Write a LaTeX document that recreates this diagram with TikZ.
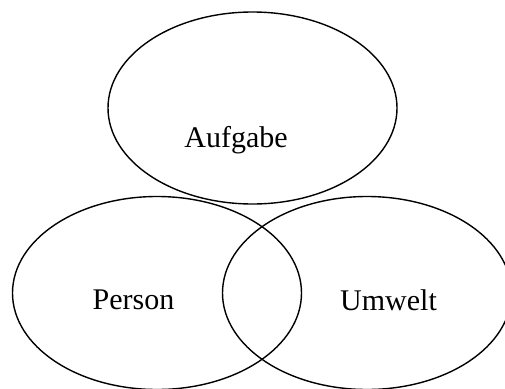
\documentclass[tikz,border=0pt]{standalone}
\usepackage{fontspec}
\setmainfont{Liberation Serif}
\begin{document}
\begin{tikzpicture}[x=1pt,y=-1pt,
  ring/.style={draw=black,line width=1.4pt},
  lbl/.style={font=\fontsize{30}{33}\selectfont,inner sep=0pt}]
\useasboundingbox (0,0) rectangle (505,388);
\draw[ring] (252.5,108) ellipse [x radius=144.5, y radius=96];
\draw[ring] (157,293) ellipse [x radius=144.5, y radius=96.5];
\draw[ring] (367,293) ellipse [x radius=144.5, y radius=96.5];
\node[lbl] (aufgabe) at (236,140) {Aufgabe};
\node[lbl] (person) at (133.5,300) {Person};
\node[lbl] (umwelt) at (388.5,300) {Umwelt};
\end{tikzpicture}
\end{document}
